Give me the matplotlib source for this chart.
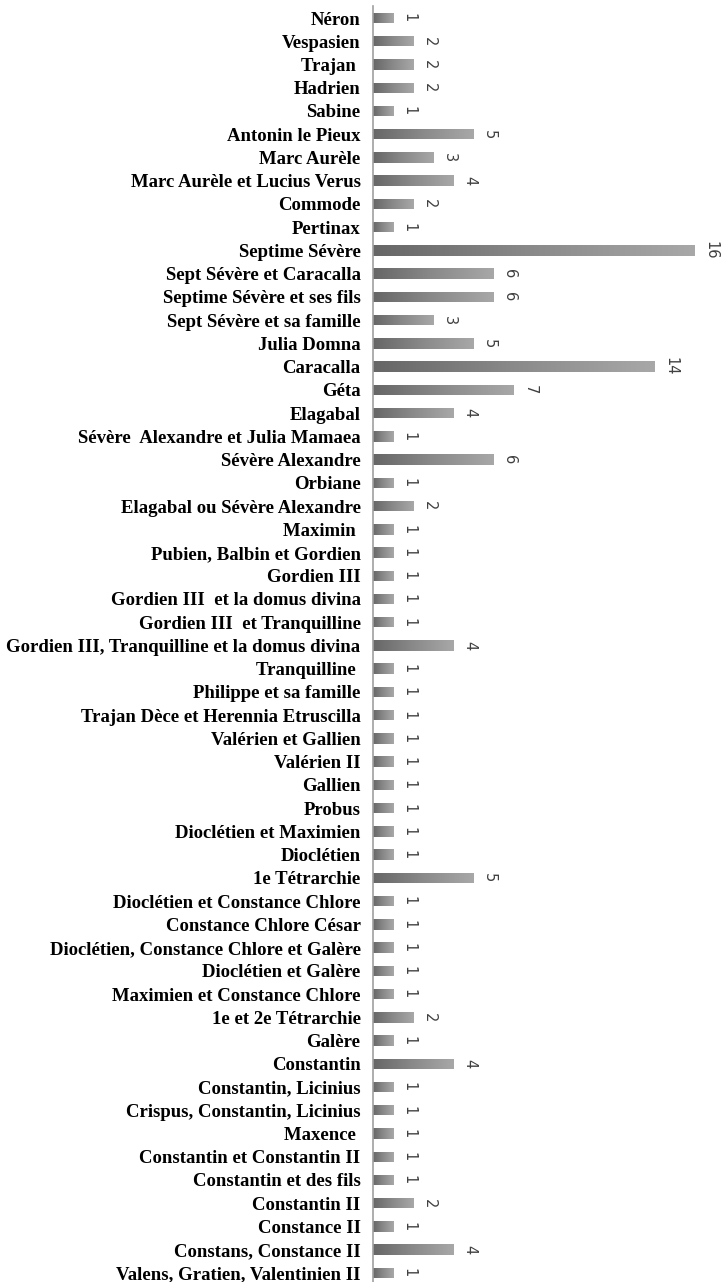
import numpy as np
import matplotlib.pyplot as plt
from matplotlib.colors import LinearSegmentedColormap

noms = [
    "Néron", "Vespasien", "Trajan ", "Hadrien", "Sabine", "Antonin le Pieux",
    "Marc Aurèle", "Marc Aurèle et Lucius Verus", "Commode", "Pertinax",
    "Septime Sévère", "Sept Sévère et Caracalla", "Septime Sévère et ses fils",
    "Sept Sévère et sa famille", "Julia Domna", "Caracalla", "Géta", "Elagabal",
    "Sévère  Alexandre et Julia Mamaea", "Sévère Alexandre", "Orbiane",
    "Elagabal ou Sévère Alexandre", "Maximin ", "Pubien, Balbin et Gordien",
    "Gordien III", "Gordien III  et la domus divina", "Gordien III  et Tranquilline",
    "Gordien III, Tranquilline et la domus divina", "Tranquilline ",
    "Philippe et sa famille", "Trajan Dèce et Herennia Etruscilla",
    "Valérien et Gallien", "Valérien II", "Gallien", "Probus",
    "Dioclétien et Maximien", "Dioclétien", "1e Tétrarchie",
    "Dioclétien et Constance Chlore", "Constance Chlore César",
    "Dioclétien, Constance Chlore et Galère", "Dioclétien et Galère",
    "Maximien et Constance Chlore", "1e et 2e Tétrarchie", "Galère", "Constantin",
    "Constantin, Licinius", "Crispus, Constantin, Licinius", "Maxence ",
    "Constantin et Constantin II", "Constantin et des fils", "Constantin II",
    "Constance II", "Constans, Constance II", "Valens, Gratien, Valentinien II",
]
nombres = [
    1, 2, 2, 2, 1, 5, 3, 4, 2, 1,
    16, 6, 6, 3, 5, 14, 7, 4, 1, 6,
    1, 2, 1, 1, 1, 1, 1, 4, 1, 1,
    1, 1, 1, 1, 1, 1, 1, 5, 1, 1,
    1, 1, 1, 2, 1, 4, 1, 1, 1, 1,
    1, 2, 1, 4, 1,
]

W, H = 723, 1282
fig = plt.figure(figsize=(W / 100, H / 100), dpi=100)
ax = fig.add_axes([373 / W, 0, (715 - 373) / W, 1 - 6.4 / H])

n = len(noms)
y = np.arange(n)
bars = ax.barh(y, nombres, height=0.45, color="none", edgecolor="none")

# dégradé horizontal gris foncé -> gris clair dans chaque barre
cmap = LinearSegmentedColormap.from_list("gris", ["#666666", "#8a8a8a", "#a8a8a8"])
grad = np.linspace(0, 1, 256).reshape(1, -1)
for b in bars:
    x0, y0 = b.get_x(), b.get_y()
    im = ax.imshow(grad, cmap=cmap, aspect="auto", interpolation="bilinear",
                   extent=(x0, x0 + b.get_width(), y0 + b.get_height(), y0),
                   zorder=2)
    im.set_clip_path(b)

for yi, v in zip(y, nombres):
    ax.text(v + 0.8, yi, str(v), rotation=270, ha="center", va="center",
            fontsize=10.5, color="#404040", family="DejaVu Sans")

ax.set_xlim(0, 17)
ax.set_ylim(54.39, -0.5)
ax.set_yticks(y)
ax.set_yticklabels(noms, family="Liberation Serif", fontweight="bold", fontsize=13.5)
ax.tick_params(axis="y", length=0, pad=9)
ax.set_xticks([])
for s in ["top", "right", "bottom"]:
    ax.spines[s].set_visible(False)
ax.spines["left"].set_color("#a0a0a0")
ax.spines["left"].set_linewidth(1.2)

fig.savefig("out.png", dpi=100)
